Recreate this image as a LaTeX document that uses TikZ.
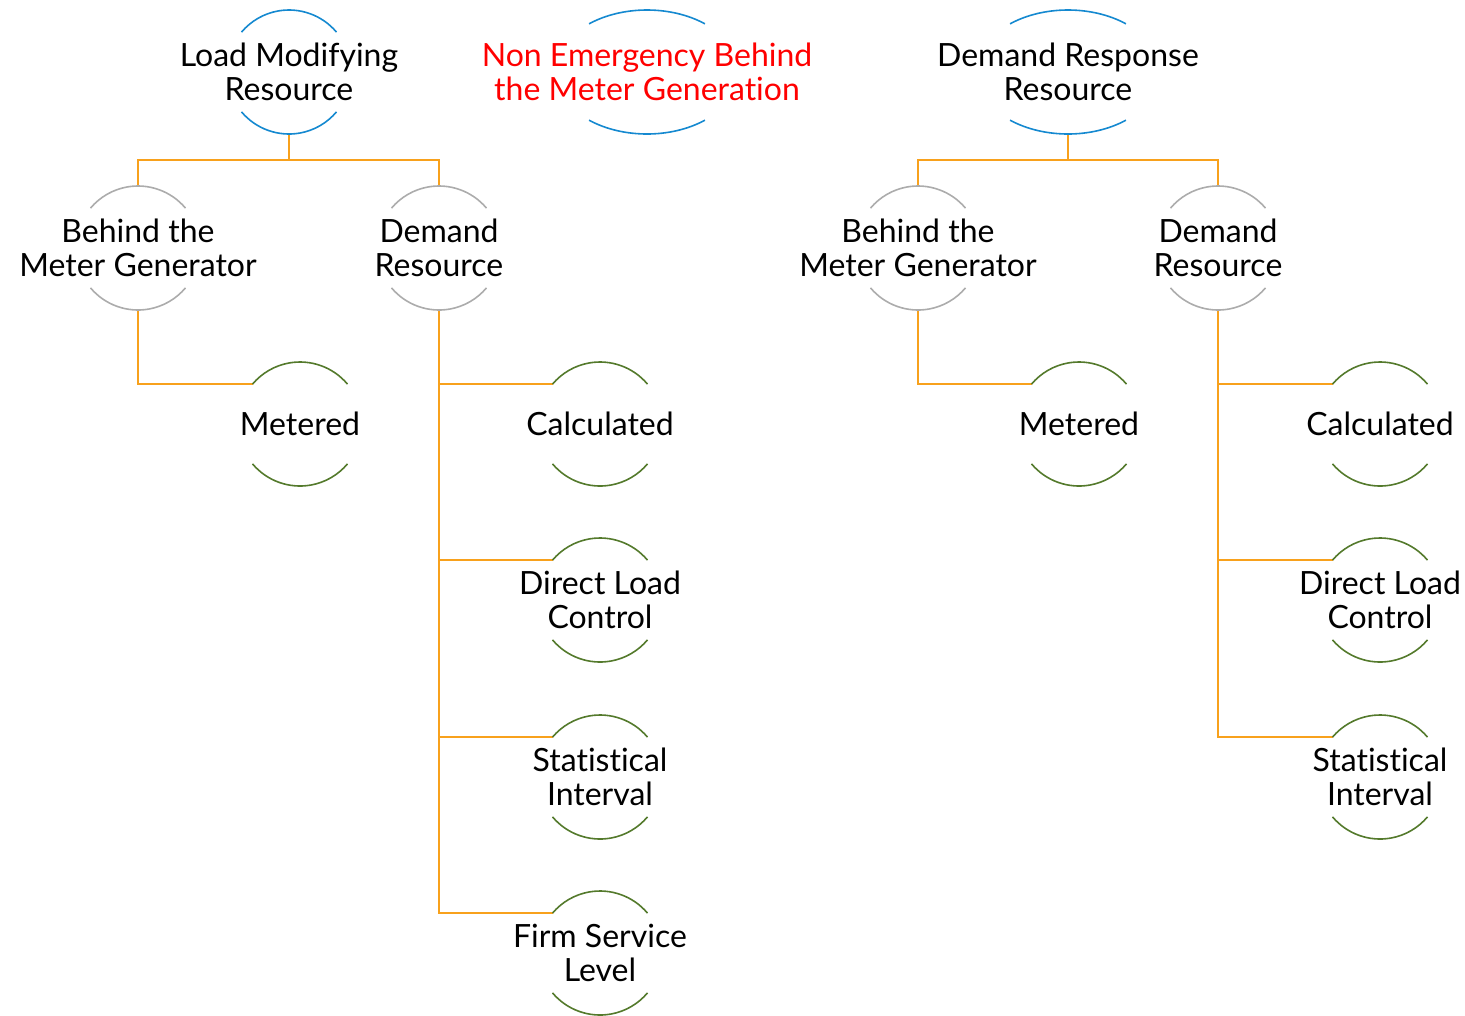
\documentclass[tikz,border=0pt]{standalone}
\usepackage{fontspec}
\setmainfont{Lato}[Ligatures = NoCommon]
\usepackage{xcolor}
\usepackage{tikz}
\usetikzlibrary{arrows.meta}
\definecolor{ringblue}{RGB}{21,137,208}
\definecolor{ringgrey}{RGB}{172,172,172}
\definecolor{ringgreen}{RGB}{84,122,44}
\definecolor{wireorange}{RGB}{248,161,28}
\tikzset{
ring/.style = { circle, draw = none, inner sep = 0pt, outer sep = 0pt, minimum size = 93pt },
txt/.style = { black, align = center, inner sep = 0pt, font = \fontsize{24}{25.5}\selectfont },
wire/.style = { draw = wireorange, line width = 1.2pt },
arc line/.style = { draw = #1, line width = 1.2pt },
}

\begin{document}
\begin{tikzpicture}[x=0.75pt, y=0.75pt]
      \useasboundingbox (0,0) rectangle (1465,-1015);
      % top level
      \node[ring, label = {[txt]center:Load Modifying\\Resource}] (lmr) at (289,-72) {};
      \node[ring, label = {[txt, red]center:Non Emergency Behind\\the Meter Generation}] (neb) at (647,-72) {};
      \node[ring, label = {[txt]center:Demand Response\\Resource}] (drr) at (1068,-72) {};
      % left tree
      \node[ring, label = {[txt]center:Behind the\\Meter Generator}] (btm1) at (138,-248) {};
      \node[ring, label = {[txt]center:Demand\\Resource}] (dr1) at (439,-248) {};
      \node[ring, label = {[txt]center:Metered}] (met1) at (300,-424) {};
      \node[ring, label = {[txt]center:Calculated}] (calc1) at (600,-424) {};
      \node[ring, label = {[txt]center:Direct Load\\Control}] (dlc1) at (600,-600) {};
      \node[ring, label = {[txt]center:Statistical\\Interval}] (si1) at (600,-777) {};
      \node[ring, label = {[txt]center:Firm Service\\Level}] (fsl1) at (600,-953) {};
      % right tree
      \node[ring, label = {[txt]center:Behind the\\Meter Generator}] (btm2) at (918,-248) {};
      \node[ring, label = {[txt]center:Demand\\Resource}] (dr2) at (1218,-248) {};
      \node[ring, label = {[txt]center:Metered}] (met2) at (1079,-424) {};
      \node[ring, label = {[txt]center:Calculated}] (calc2) at (1380,-424) {};
      \node[ring, label = {[txt]center:Direct Load\\Control}] (dlc2) at (1380,-600) {};
      \node[ring, label = {[txt]center:Statistical\\Interval}] (si2) at (1380,-777) {};
      \begin{scope}[every path/.style = {wire}]
        \draw (lmr.south) -- ++(0,-26) -| (btm1.north);
        \draw (lmr.south) -- ++(0,-26) -| (dr1.north);
        \draw (drr.south) -- ++(0,-26) -| (btm2.north);
        \draw (drr.south) -- ++(0,-26) -| (dr2.north);
        \draw (btm1.south) |- (met1.140);
        \draw (btm2.south) |- (met2.140);
        \foreach \n in {calc1, dlc1, si1, fsl1}
          \draw (dr1.south) |- (\n.140);
        \foreach \n in {calc2, dlc2, si2}
          \draw (dr2.south) |- (\n.140);
      \end{scope}
      \begin{scope}
        \draw[arc line = ringblue] (lmr.40) arc[start angle = 40, end angle = 140, radius = 46.5pt]
             (lmr.220) arc[start angle = 220, end angle = 320, radius = 46.5pt];
        \foreach \n in {neb, drr}
          \draw[arc line = ringblue] (\n.center) ++(51:69pt and 46.5pt) arc[start angle = 51, end angle = 129, x radius = 69pt, y radius = 46.5pt]
               (\n.center) ++(231:69pt and 46.5pt) arc[start angle = 231, end angle = 309, x radius = 69pt, y radius = 46.5pt];
        \foreach \n in {btm1, dr1, btm2, dr2}
          \draw[arc line = ringgrey] (\n.40) arc[start angle = 40, end angle = 140, radius = 46.5pt]
               (\n.220) arc[start angle = 220, end angle = 320, radius = 46.5pt];
        \foreach \n in {met1, calc1, dlc1, si1, fsl1, met2, calc2, dlc2, si2}
          \draw[arc line = ringgreen] (\n.40) arc[start angle = 40, end angle = 140, radius = 46.5pt]
               (\n.220) arc[start angle = 220, end angle = 320, radius = 46.5pt];
      \end{scope}
    \end{tikzpicture}
\end{document}
